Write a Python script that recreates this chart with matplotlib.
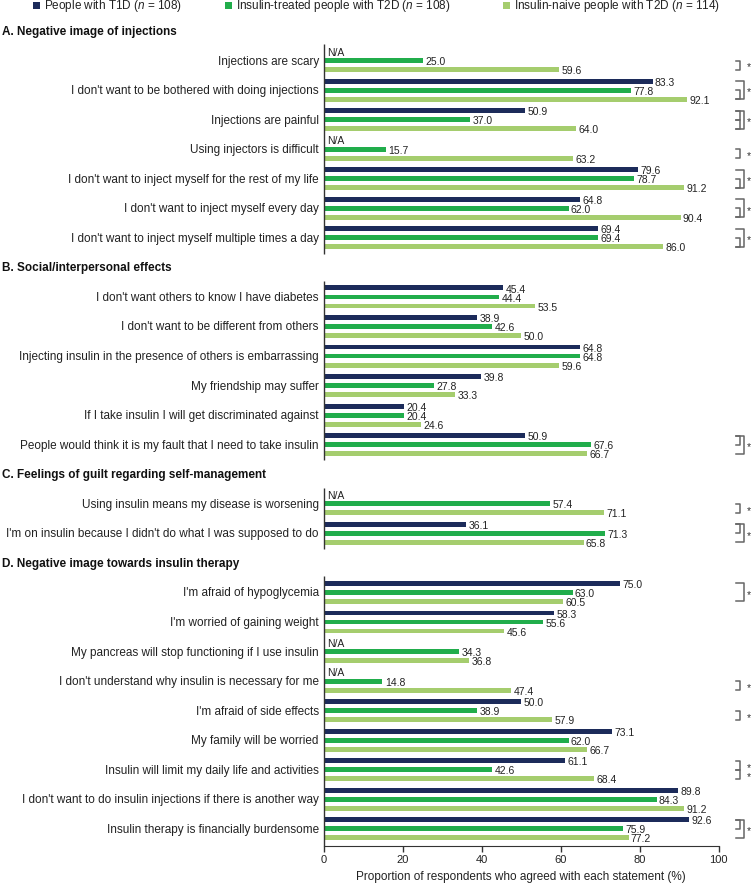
import matplotlib.pyplot as plt
import matplotlib.transforms as mtransforms
from matplotlib.patches import Rectangle
import numpy as np

plt.rcParams['font.family'] = ['Liberation Sans', 'DejaVu Sans']
plt.rcParams['mathtext.fontset'] = 'custom'
plt.rcParams['mathtext.rm'] = 'Liberation Sans'
plt.rcParams['mathtext.it'] = 'Liberation Sans:italic'

na = np.nan

groups = ['People with T1D ($\\it{n}$ = 108)',
          'Insulin-treated people with T2D ($\\it{n}$ = 108)',
          'Insulin-naive people with T2D ($\\it{n}$ = 114)']

sections = ['A. Negative image of injections',
            'B. Social/interpersonal effects',
            'C. Feelings of guilt regarding self-management',
            'D. Negative image towards insulin therapy']
section_sizes = [7, 6, 2, 9]

statements = [
    'Injections are scary',
    "I don't want to be bothered with doing injections",
    'Injections are painful',
    'Using injectors is difficult',
    "I don't want to inject myself for the rest of my life",
    "I don't want to inject myself every day",
    "I don't want to inject myself multiple times a day",
    "I don't want others to know I have diabetes",
    "I don't want to be different from others",
    'Injecting insulin in the presence of others is embarrassing',
    'My friendship may suffer',
    'If I take insulin I will get discriminated against',
    'People would think it is my fault that I need to take insulin',
    'Using insulin means my disease is worsening',
    "I'm on insulin because I didn't do what I was supposed to do",
    "I'm afraid of hypoglycemia",
    "I'm worried of gaining weight",
    'My pancreas will stop functioning if I use insulin',
    "I don't understand why insulin is necessary for me",
    "I'm afraid of side effects",
    'My family will be worried',
    'Insulin will limit my daily life and activities',
    "I don't want to do insulin injections if there is another way",
    'Insulin therapy is financially burdensome',
]

t1d = [na, 83.3, 50.9, na, 79.6, 64.8, 69.4,
       45.4, 38.9, 64.8, 39.8, 20.4, 50.9,
       na, 36.1,
       75.0, 58.3, na, na, 50.0, 73.1, 61.1, 89.8, 92.6]
t2d_treated = [25.0, 77.8, 37.0, 15.7, 78.7, 62.0, 69.4,
               44.4, 42.6, 64.8, 27.8, 20.4, 67.6,
               57.4, 71.3,
               63.0, 55.6, 34.3, 14.8, 38.9, 62.0, 42.6, 84.3, 75.9]
t2d_naive = [59.6, 92.1, 64.0, 63.2, 91.2, 90.4, 86.0,
             53.5, 50.0, 59.6, 33.3, 24.6, 66.7,
             71.1, 65.8,
             60.5, 45.6, 36.8, 47.4, 57.9, 66.7, 68.4, 91.2, 77.2]

# significant pairs (0 = T1D, 1 = insulin-treated T2D, 2 = insulin-naive T2D)
sig = [
    [(1, 2)], [(1, 2), (0, 2)], [(0, 1), (1, 2), (0, 2)], [(1, 2)],
    [(1, 2), (0, 2)], [(1, 2), (0, 2)], [(1, 2), (0, 2)],
    [], [], [], [], [], [(0, 1), (0, 2)],
    [(1, 2)], [(0, 1), (0, 2)],
    [(0, 2)], [], [], [(1, 2)], [(1, 2)], [], [(0, 1), (1, 2)], [], [(0, 1), (0, 2)],
]

colors = ['#1c2b5a', '#21ad4b', '#a5cd6e']
series = [t1d, t2d_treated, t2d_naive]

W, H = 752, 887
fig = plt.figure(figsize=(W / 100, H / 100), dpi=100)
top_px, bot_px, left_px, right_px = 15, 847, 324, 718.5
slot_px, head_px = 29.55, 32
ax = fig.add_axes([left_px / W, 1 - bot_px / H, (right_px - left_px) / W, (bot_px - top_px) / H])
ax.set_xlim(0, 100)
ylim_bot = (bot_px - head_px) / slot_px
ax.set_ylim(ylim_bot, (top_px - head_px) / slot_px)

# slot positions
head_slots, stmt_slots = [], []
s = 0
for n in section_sizes:
    head_slots.append(s)
    stmt_slots.extend(range(s + 1, s + 1 + n))
    s += n + 1
stmt_slots = np.array(stmt_slots, dtype=float)

offs = [-0.305, 0.0, 0.305]
bh = 0.165
for k in range(3):
    for y, v in zip(stmt_slots, series[k]):
        yy = y + offs[k]
        if np.isnan(v):
            ax.text(0.8, yy, 'N/A', ha='left', va='center', fontsize=7.5, color='#222222')
            continue
        ax.barh(yy, v, height=bh, color=colors[k], linewidth=0)
        ax.text(v + 0.6, yy + 0.02, f'{v:.1f}', ha='left', va='center', fontsize=7.5, color='#222222')

for y, lab in zip(stmt_slots, statements):
    ax.text(-1.3, y, lab, ha='right', va='center', fontsize=8.5, color='#222222')

trans = mtransforms.blended_transform_factory(fig.transFigure, ax.transData)
for y, h in zip(head_slots, sections):
    ax.text(2 / W, y, h, transform=trans, ha='left', va='center', fontsize=8.5,
            fontweight='bold', color='#111111')

# section axis lines
for i, (hs, n) in enumerate(zip(head_slots, section_sizes)):
    y0 = hs + 1 - 0.55
    y1 = hs + n + 0.53 if i < len(section_sizes) - 1 else ylim_bot
    ax.plot([0, 0], [y0, y1], color='#333333', lw=1, clip_on=False, solid_capstyle='butt')

# significance brackets
bcol = '#666666'
x_tip, x_in, x_out, x_star = 104.4, 105.5, 106.5, 107.6
for y, pairs in zip(stmt_slots, sig):
    for (i, j) in pairs:
        xv = x_out if (j - i) == 2 else x_in
        ya, yb = y + offs[i], y + offs[j]
        ax.plot([x_tip, xv, xv, x_tip], [ya, ya, yb, yb], color=bcol, lw=1.1, clip_on=False)
        inside = any((a <= i and j <= b and (a, b) != (i, j)) for (a, b) in pairs)
        if not inside:
            ax.text(x_star, (ya + yb) / 2 + 0.05, '*', ha='center', va='center', fontsize=7.5,
                    color='#333333')

for sp in ['top', 'right', 'left']:
    ax.spines[sp].set_visible(False)
ax.spines['bottom'].set_color('#333333')
ax.set_yticks([])
ax.set_xticks([0, 20, 40, 60, 80, 100])
ax.tick_params(axis='x', direction='out', length=4, width=1, color='#333333', labelsize=8,
               labelcolor='#222222', pad=2)
ax.set_xlabel('Proportion of respondents who agreed with each statement (%)', fontsize=8.5,
              color='#222222', labelpad=4)

# legend
leg_x = [33, 225, 503]
for x, c, g in zip(leg_x, colors, groups):
    fig.patches.append(Rectangle((x / W, 1 - 9.5 / H), 6.5 / W, 6.5 / H, transform=fig.transFigure,
                                 color=c, linewidth=0))
    fig.text((x + 11) / W, 1 - 6.5 / H, g, ha='left', va='center', fontsize=8.5, color='#222222')

fig.savefig('out.png', dpi=100)
